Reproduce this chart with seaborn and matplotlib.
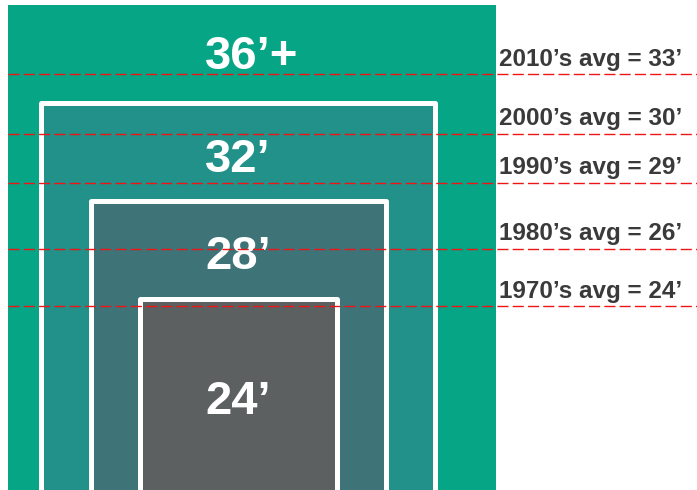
import matplotlib
matplotlib.use("Agg")
import matplotlib.pyplot as plt
import seaborn as sns
import pandas as pd

# ---- data ----
sizes = ["36\u2019+", "32\u2019", "28\u2019", "24\u2019"]
size_tops = [36, 32, 28, 24]                  # feet (top edge of each box)
half_widths = [244, 197, 147.75, 98.4]        # horizontal half-extent of each box
box_colors = ["#05A586", "#21918A", "#3E7478", "#5C6061"]

decades = ["2010\u2019s", "2000\u2019s", "1990\u2019s", "1980\u2019s", "1970\u2019s"]
decade_avgs = [33, 30, 29, 26, 24]
decade_line_pos = [33.2, 30.75, 28.75, 26.05, 23.7]   # drawn heights

sns.set_theme(style="white")
plt.rcParams["font.family"] = ["Liberation Sans", "DejaVu Sans"]

fig = plt.figure(figsize=(6.97, 4.90), dpi=100)
ax = fig.add_axes([0, 0, 1, 1])
ymin, ymax = 16.19, 36.22
ax.set_xlim(0, 697)
ax.set_ylim(ymin, ymax)
ax.axis("off")

centers = [252, 238.3, 238.3, 238.3]
for i, (lab, top, hw, col, cx) in enumerate(zip(sizes, size_tops, half_widths, box_colors, centers)):
    edge = "none" if i == 0 else "white"
    bars = ax.bar(cx - hw, top - (ymin - 2), width=2 * hw, bottom=ymin - 2, align="edge",
                  color=col, edgecolor=edge, linewidth=3.6, zorder=1 + i)
    for b in bars:
        b.set_joinstyle("round")
    nxt = size_tops[i + 1] if i + 1 < len(size_tops) else ymin
    ax.annotate(lab, xy=(205, (top + nxt) / 2), xytext=(0, -10.5 if i == 0 else -14),
                textcoords="offset points", ha="left", va="baseline", color="white",
                fontsize=34, fontweight="bold", zorder=10)

df = pd.DataFrame({"decade": decades, "avg": decade_avgs, "pos": decade_line_pos})
for _, r in df.iterrows():
    sns.lineplot(x=[8, 697], y=[r["pos"], r["pos"]], ax=ax, color="#f01515",
                 linewidth=1.0, linestyle=(0, (8, 3)), zorder=20)
    ax.annotate(f"{r['decade']} avg = {r['avg']}\u2019", xy=(499, r["pos"]),
                xytext=(0, 6), textcoords="offset points", ha="left", va="baseline",
                color="#3a3a3a", fontsize=17.5, fontweight="bold", zorder=21)

fig.savefig("out.png", dpi=100)
